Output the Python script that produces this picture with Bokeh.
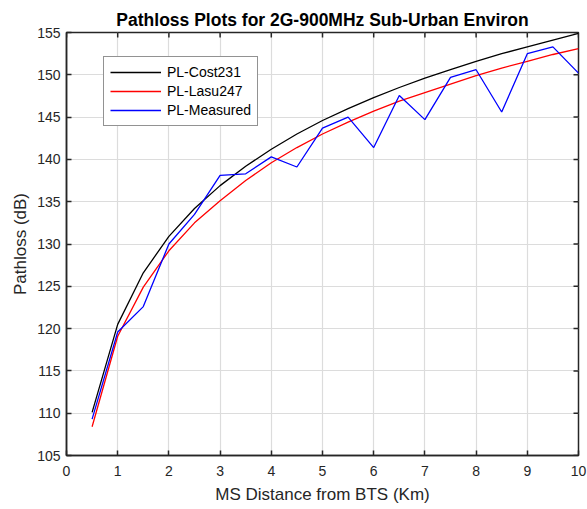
import math
from bokeh.plotting import figure
from bokeh.models import Range1d, Legend, LegendItem, FixedTicker
from bokeh.embed import file_html
from bokeh.resources import INLINE

distance_km = [0.5, 1.0, 1.5, 2.0, 2.5, 3.0, 3.5, 4.0, 4.5, 5.0,
               5.5, 6.0, 6.5, 7.0, 7.5, 8.0, 8.5, 9.0, 9.5, 10.0]
pl_cost231 = [110.1, 120.5, 126.6, 130.9, 134.2, 136.9, 139.2, 141.2, 143.0, 144.6,
              146.0, 147.3, 148.5, 149.6, 150.6, 151.6, 152.5, 153.3, 154.1, 154.9]
pl_lasu247 = [108.4, 119.1, 124.9, 129.2, 132.5, 135.1, 137.5, 139.6, 141.4, 143.0,
              144.4, 145.7, 146.9, 147.9, 148.9, 149.9, 150.8, 151.6, 152.4, 153.1]
pl_measured = [109.3, 119.6, 122.6, 130.0, 133.5, 138.1, 138.3, 140.3, 139.1, 143.7,
               145.0, 141.4, 147.55, 144.7, 149.7, 150.6, 145.6, 152.5, 153.3, 150.2]
x_ticks = [0, 1, 2, 3, 4, 5, 6, 7, 8, 9, 10]
y_ticks = [105, 110, 115, 120, 125, 130, 135, 140, 145, 150, 155]
series_names = ["PL-Cost231", "PL-Lasu247", "PL-Measured"]

FONT = "Liberation Sans"
AX = "#262626"
X_MIN, X_MAX = x_ticks[0], x_ticks[-1]
Y_MIN, Y_MAX = y_ticks[0], y_ticks[-1]

p = figure(width=587, height=509, output_backend="svg", toolbar_location=None,
           x_range=Range1d(X_MIN, X_MAX), y_range=Range1d(Y_MIN, Y_MAX),
           min_border_left=66, min_border_right=9, min_border_top=32, min_border_bottom=54,
           title="Pathloss Plots for 2G-900MHz Sub-Urban Environ")
p.background_fill_color = "white"
p.border_fill_color = "white"
p.outline_line_color = AX
p.outline_line_width = 1.5

p.title.text_font = FONT
p.title.text_font_size = "17.5px"
p.title.text_font_style = "bold"
p.title.text_color = "black"
p.title.align = "center"
p.title.standoff = 6

for ax in (p.xaxis[0], p.yaxis[0]):
    ax.major_label_text_font = FONT
    ax.major_label_text_font_size = "14px"
    ax.major_label_text_color = AX
    ax.axis_label_text_font = FONT
    ax.axis_label_text_font_size = "17px"
    ax.axis_label_text_font_style = "normal"
    ax.axis_label_text_color = AX
    ax.axis_line_color = AX
    ax.axis_line_width = 1.5
    ax.major_tick_line_color = AX
    ax.major_tick_line_width = 1.5
    ax.major_tick_in = 5
    ax.major_tick_out = 0
    ax.minor_tick_line_color = None

p.xaxis[0].ticker = FixedTicker(ticks=x_ticks)
p.yaxis[0].ticker = FixedTicker(ticks=y_ticks)
p.xaxis[0].axis_label = "MS Distance from BTS (Km)"
p.yaxis[0].axis_label = "Pathloss (dB)"
p.xaxis[0].major_label_standoff = 10
p.yaxis[0].major_label_standoff = 6
p.xaxis[0].axis_label_standoff = 6
p.yaxis[0].axis_label_standoff = 4

p.xgrid.ticker = FixedTicker(ticks=x_ticks)
p.ygrid.ticker = FixedTicker(ticks=y_ticks)
p.grid.grid_line_color = "#dcdcdc"
p.grid.grid_line_width = 1.2

# inward ticks on the top and right edges of the box (clipped to the frame)
p.scatter(x_ticks, [Y_MAX] * len(x_ticks), marker="dash", angle=math.pi / 2,
          size=10, line_color=AX, line_width=1.5)
p.scatter([X_MAX] * len(y_ticks), y_ticks, marker="dash",
          size=10, line_color=AX, line_width=1.5)

r1 = p.line(distance_km, pl_cost231, line_color="black", line_width=1.3)
r2 = p.line(distance_km, pl_lasu247, line_color="#ff0000", line_width=1.3)
r3 = p.line(distance_km, pl_measured, line_color="#0000ff", line_width=1.3)

legend = Legend(items=[LegendItem(label=series_names[0], renderers=[r1]),
                       LegendItem(label=series_names[1], renderers=[r2]),
                       LegendItem(label=series_names[2], renderers=[r3])],
                location=(37, 329))
legend.label_text_font = FONT
legend.label_text_font_size = "14px"
legend.label_text_color = "black"
legend.glyph_width = 51
legend.glyph_height = 18
legend.label_height = 18
legend.label_standoff = 6
legend.spacing = 1
legend.padding = 6
legend.margin = 0
legend.border_line_color = AX
legend.border_line_width = 1
legend.background_fill_color = "white"
legend.background_fill_alpha = 1
p.add_layout(legend, "center")

open("out.html", "w").write(file_html(p, INLINE))
